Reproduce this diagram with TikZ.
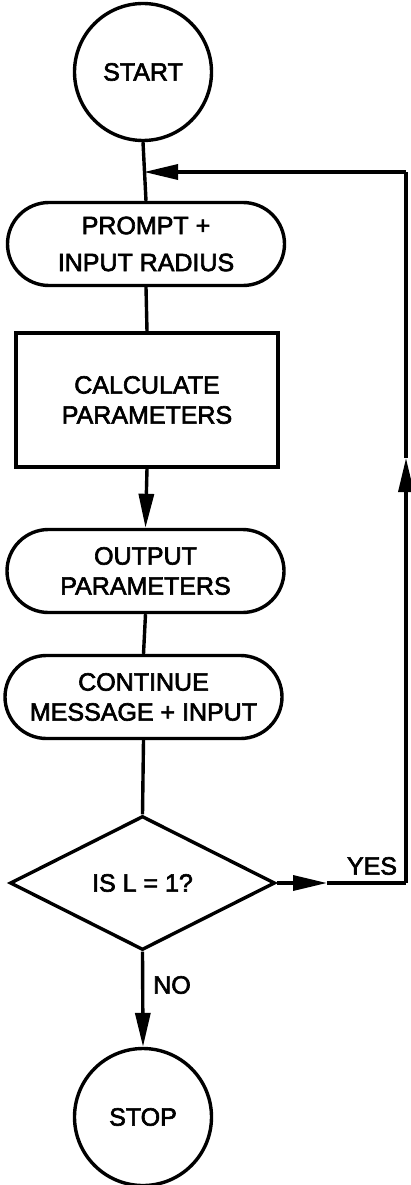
\documentclass[tikz,border=0pt]{standalone}
\usepackage{fontspec}
\newfontfamily\chartfont{Liberation Sans}[FakeBold=2.5]
\usetikzlibrary{shapes.geometric,shapes.misc,arrows.meta}

\tikzset{
  every node/.style={font=\chartfont\fontsize{25}{30}\selectfont},
  term/.style={draw, circle, line width=3.4pt, minimum size=137pt, inner sep=0pt},
  io/.style={draw, rounded rectangle, line width=3.4pt, minimum width=277pt, minimum height=83pt, align=center, inner sep=0pt},
  proc/.style={draw, rectangle, line width=3.4pt, minimum width=262pt, minimum height=134pt, align=center},
  decide/.style={draw, diamond, line width=3.4pt, minimum width=265pt, minimum height=134pt, inner sep=0pt},
  line/.style={line width=3.4pt},
  flow/.style={line width=3.4pt, -{Triangle[length=34pt,width=15pt]}}
}

\begin{document}
\begin{tikzpicture}[x=1pt,y=-1pt]
  \useasboundingbox (0,0) rectangle (410,1185);

  % Boxes of the flowchart
  \node[term] (start) at (143,72) {START};
  \node[io] (prompt) at (146,244) {PROMPT +\\[7pt]INPUT RADIUS};
  \node[proc] (calc) at (147,400) {CALCULATE\\PARAMETERS};
  \node[io] (output) at (145.5,571) {OUTPUT\\PARAMETERS};
  \node[io] (cont) at (143.5,697) {CONTINUE\\MESSAGE + INPUT};
  \node[decide] (test) at (142.5,883) {IS L = 1?};
  \node[term] (stop) at (143,1117) {STOP};

  % Corners of the loop back
  \coordinate (yestip) at (327,883);
  \coordinate (yescorner) at (406,883);
  \coordinate (uptip) at (406,458);
  \coordinate (topcorner) at (406,172);
  \coordinate (join) at (144,172);

  % Main flow
  \draw[line] (start.south) -- (prompt.north);
  \draw[line] (prompt.south) -- (calc.north);
  \draw[flow] (calc.south) -- (output.north);
  \draw[line] (output.south) -- (cont.north);
  \draw[line] (cont.south) -- (test.north);
  \draw[flow] (test.south) -- (stop.north);
  \node (no) at (172,985) {NO};

  % Loop back on YES
  \draw[flow] (test.east) -- (yestip);
  \draw[line] (yestip) -- (yescorner);
  \draw[flow] (yescorner) -- (uptip);
  \draw[line] (uptip) -- (topcorner);
  \draw[flow] (topcorner) -- (join);
  \node (yes) at (372,866) {YES};
\end{tikzpicture}
\end{document}
